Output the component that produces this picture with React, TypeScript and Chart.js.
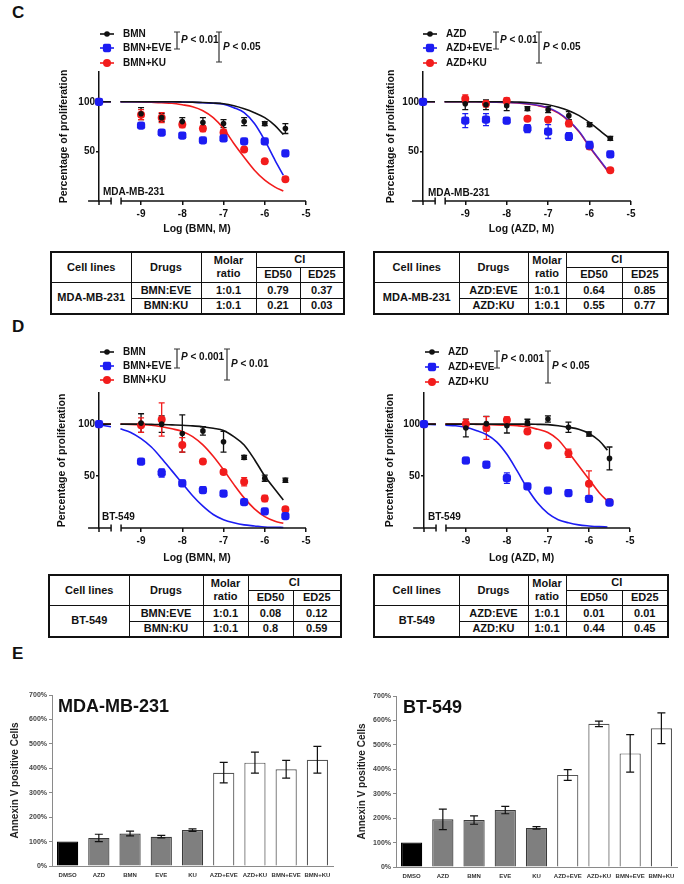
import React, { useEffect, useRef } from "react";
import { Chart, registerables } from "chart.js";
Chart.register(...registerables);

const FONT = "'Liberation Sans', Arial, Helvetica, sans-serif";

// ---------- dose response data (panels C and D) ----------
const DOSES = [-9, -8.5, -8, -7.5, -7, -6.5, -6, -5.5];
const CONTROL_X = -10.02;
const CONTROL_Y = 100;
const X_TICKS = [-9, -8, -7, -6, -5];
const Y_TICKS = [50, 100];
const CURVE_X = [-10.02, -9.73, -9.6, -9.5, -9.25, -9, -8.75, -8.5, -8.25, -8, -7.75, -7.5, -7.25, -7, -6.75, -6.5, -6.25, -6, -5.75, -5.55];

// C left: MDA-MB-231, BMN
const C1_BMN = [88, 84, 80, 79, 78, 80, 78, 73];
const C1_BMN_ERR = [6, 4, 4, 5, 4, 4, 2, 5];
const C1_EVE = [76, 69, 66, 61, 63, 60, 60, 48];
const C1_EVE_ERR = [2, 2, 2, 2, 2, 2, 2, 2];
const C1_KU = [87, 84, 77, 73, 69, 52, 40, 22];
const C1_KU_ERR = [5, 5, 3, 3, 3, 2, 2, 2];
const C1_BMN_FIT = [100, 100, null, 100, 100, 100, 100, 100, 100, 99.8, 99.6, 99.3, 98.8, 98, 96, 93, 89, 84, 76, 67];
const C1_EVE_FIT = [100, 100, null, 100, 100, 100, 100, 100, 100, 99.8, 99.5, 99, 98.5, 97.5, 94, 89, 78, 61, 41, 26];
const C1_KU_FIT = [100, 100, null, 100, 100, 99.8, 99.5, 99, 98.5, 97, 95, 91, 84, 73, 58, 44, 31, 21, 14, 10];

// C right: MDA-MB-231, AZD
const C2_AZD = [98, 97, 96, 93, 92, 86, 77, 63];
const C2_AZD_ERR = [6, 5, 5, 2, 3, 4, 2, 2];
const C2_EVE = [81, 82, 81, 73, 70, 65, 56, 47];
const C2_EVE_ERR = [7, 6, 3, 4, 7, 4, 4, 3];
const C2_KU = [103, 98, 101, 83, 82, 78, 55, 31];
const C2_KU_ERR = [4, 3, 3, 2, 2, 3, 2, 2];
const C2_AZD_FIT = [100, 100, null, 100, 100, 100, 100, 100, 100, 100, 99.7, 99.3, 98.5, 97, 94.5, 91, 86, 79, 71, 64];
const C2_EVE_FIT = [100, 100, null, 100, 100, 100, 100, 99.8, 99.6, 99.4, 99, 98, 96.5, 94, 89, 81, 70, 55, 41, 30];
const C2_KU_FIT = [100, 100, null, 100, 100, 100, 100, 99.8, 99.6, 99.3, 98.8, 97.8, 96.2, 93.5, 88.5, 80.5, 69.5, 54.5, 40.5, 29.5];

// D left: BT-549, BMN
const D1_BMN = [101, 100, 91, 93.5, 83, 68, 48, 46];
const D1_BMN_ERR = [9, 8, 18, 4, 10, 2, 3, 2];
const D1_EVE = [64, 53, 43, 36.5, 33, 25, 16, 11.5];
const D1_EVE_ERR = [2, 4, 3, 3, 2, 2, 2, 2];
const D1_KU = [99, 104.5, 80, 64, 54, 44.5, 28.5, 18];
const D1_KU_ERR = [7, 16, 7, 2, 2, 4, 3, 2];
const D1_BMN_FIT = [100, 100, null, 100, 100, 100, 99.8, 99.6, 99.3, 99, 98.3, 97.5, 96, 94, 88, 80, 66, 50, 37, 27];
const D1_EVE_FIT = [99.5, 97.5, null, 95.5, 92, 86, 78, 67, 55, 43, 31, 21, 13, 8, 5, 3, 2, 1, 0.7, 0.5];
const D1_KU_FIT = [100, 100, null, 100, 99.8, 99.5, 99, 97.5, 95.5, 93, 88, 80, 69, 56, 42, 29, 18.5, 11, 6.5, 4.5];

// D right: BT-549, AZD
const D2_AZD = [96.3, 100.5, 98.5, 101.7, 105, 97, 90.5, 67];
const D2_AZD_ERR = [8.5, 7, 7, 3, 3, 5, 2, 11];
const D2_EVE = [65, 61, 48, 40, 36, 33.5, 28, 24.5];
const D2_EVE_ERR = [3, 3, 5, 2, 2, 2, 2, 2];
const D2_KU = [100.5, 96.3, 104, 93, 79.5, 72, 42.5, 25];
const D2_KU_ERR = [4, 11, 3, 2, 2, 4, 12.5, 2];
const D2_AZD_FIT = [100, 100, null, 100, 100, 100, 100, 100, 100, 100, 100, 100, 99.8, 99.5, 98.5, 97, 95, 91, 84, 75];
const D2_EVE_FIT = [99.8, 99.5, null, 99, 98.5, 97, 94, 90, 83, 71, 55, 38, 24, 14, 8, 5, 3, 2, 1.3, 1];
const D2_KU_FIT = [100, 100, null, 100, 100, 100, 99.8, 99.5, 99.3, 99, 98.5, 97.5, 95, 92, 85, 73, 60, 47, 34, 26];

// ---------- tables ----------
const TABLE_HEAD = ["Cell lines", "Drugs", "Molar", "ratio", "CI", "ED50", "ED25"];
const C_LEFT_ROWS = [["BMN:EVE", "1:0.1", "0.79", "0.37"], ["BMN:KU", "1:0.1", "0.21", "0.03"]];
const C_RIGHT_ROWS = [["AZD:EVE", "1:0.1", "0.64", "0.85"], ["AZD:KU", "1:0.1", "0.55", "0.77"]];
const D_LEFT_ROWS = [["BMN:EVE", "1:0.1", "0.08", "0.12"], ["BMN:KU", "1:0.1", "0.8", "0.59"]];
const D_RIGHT_ROWS = [["AZD:EVE", "1:0.1", "0.01", "0.01"], ["AZD:KU", "1:0.1", "0.44", "0.45"]];

// ---------- panel E ----------
const E_CATS = ["DMSO", "AZD", "BMN", "EVE", "KU", "AZD+EVE", "AZD+KU", "BMN+EVE", "BMN+KU"];
const E_MDA = [100, 115, 133, 120, 147, 382, 423, 396, 435];
const E_MDA_ERR = [0, 15, 10, 5, 5, 42, 43, 36, 55];
const E_BT = [100, 195, 192, 233, 160, 377, 586, 465, 568];
const E_BT_ERR = [0, 42, 17, 15, 5, 22, 11, 77, 63];
const E_Y_TICKS = [0, 100, 200, 300, 400, 500, 600, 700];

const BLACK = "#111111";
const BLUE = "#1c1cf2";
const RED = "#f21c1c";

type Series = {
  label: string;
  color: string;
  y: number[];
  err: number[];
  fit: (number | null)[];
  marker: "circle" | "rectRounded";
  radius: number;
  order: number;
  fitColor?: string;
};

type Bracket = { x: number; y1: number; y2: number; text: string; ty: number };

type DoseProps = {
  left: number; top: number; width: number; height: number;
  area: { l: number; r: number; t: number; b: number };
  series: Series[];
  xTitle: string; xTitleY: number;
  yTitleX: number;
  cellLine: string; cellX: number; cellY: number;
  legendX: number; legendYs: number[];
  brackets: Bracket[];
};

function drawMarker(ctx: CanvasRenderingContext2D, s: Series, x: number, y: number) {
  ctx.fillStyle = s.color;
  ctx.beginPath();
  if (s.marker === "circle") {
    ctx.arc(x, y, s.radius, 0, Math.PI * 2);
  } else {
    const h = s.radius * 0.86;
    const r = 1.8;
    ctx.moveTo(x - h + r, y - h);
    ctx.arcTo(x + h, y - h, x + h, y + h, r);
    ctx.arcTo(x + h, y + h, x - h, y + h, r);
    ctx.arcTo(x - h, y + h, x - h, y - h, r);
    ctx.arcTo(x - h, y - h, x + h, y - h, r);
    ctx.closePath();
  }
  ctx.fill();
}

function DoseChart(p: DoseProps) {
  const ref = useRef<HTMLCanvasElement>(null);
  useEffect(() => {
    const canvas = ref.current!;
    const cx = (x: number) => x - p.left;
    const cy = (y: number) => y - p.top;
    const datasets: any[] = [];
    p.series.forEach((s, i) => {
      datasets.push({
        label: s.label,
        data: [{ x: CONTROL_X, y: CONTROL_Y }, ...DOSES.map((d, j) => ({ x: d, y: s.y[j] }))],
        pointStyle: s.marker,
        pointRadius: s.radius,
        pointHoverRadius: s.radius,
        backgroundColor: s.color,
        borderColor: s.color,
        pointBorderWidth: 0,
        showLine: false,
        order: s.order,
        clip: false,
      });
      datasets.push({
        label: s.label + " fit",
        data: CURVE_X.map((x, j) => ({ x, y: s.fit[j] })),
        showLine: true,
        pointRadius: 0,
        borderColor: s.fitColor ?? s.color,
        borderWidth: 1.6,
        cubicInterpolationMode: "monotone",
        spanGaps: false,
        order: 10 + i,
        clip: false,
      });
    });

    const plugin = {
      id: "dosePlugin",
      beforeDatasetsDraw(chart: any) {
        const { ctx } = chart;
        const xs = chart.scales.x, ys = chart.scales.y;
        p.series.forEach((s) => {
          ctx.save();
          ctx.strokeStyle = s.color;
          ctx.lineWidth = 1.3;
          DOSES.forEach((d, j) => {
            const e = s.err[j];
            if (!e) return;
            const px = xs.getPixelForValue(d);
            const y1 = ys.getPixelForValue(s.y[j] + e);
            const y2 = ys.getPixelForValue(s.y[j] - e);
            ctx.beginPath();
            ctx.moveTo(px, y1); ctx.lineTo(px, y2);
            ctx.moveTo(px - 3, y1); ctx.lineTo(px + 3, y1);
            ctx.moveTo(px - 3, y2); ctx.lineTo(px + 3, y2);
            ctx.stroke();
          });
          ctx.restore();
        });
      },
      afterDraw(chart: any) {
        const { ctx, chartArea } = chart;
        const xs = chart.scales.x;
        const yb = chartArea.bottom;
        ctx.save();
        ctx.strokeStyle = "#111";
        ctx.lineWidth = 1.5;
        // broken x axis
        const segs = [[-10.285, -9.727], [-9.485, -5]];
        segs.forEach(([a, b]) => {
          ctx.beginPath();
          ctx.moveTo(xs.getPixelForValue(a), yb);
          ctx.lineTo(xs.getPixelForValue(b), yb);
          ctx.stroke();
        });
        [-9.727, -9.485].forEach((v) => {
          const px = xs.getPixelForValue(v);
          ctx.beginPath();
          ctx.moveTo(px, yb - 3.5); ctx.lineTo(px, yb + 3.5);
          ctx.stroke();
        });
        const c0 = xs.getPixelForValue(CONTROL_X);
        ctx.beginPath(); ctx.moveTo(c0, yb); ctx.lineTo(c0, yb + 4); ctx.stroke();

        // x title
        ctx.fillStyle = "#111";
        ctx.font = `bold 10.5px ${FONT}`;
        ctx.textAlign = "center";
        ctx.textBaseline = "middle";
        const tx = (xs.getPixelForValue(-10.285) + xs.getPixelForValue(-5)) / 2;
        ctx.fillText(p.xTitle, tx, cy(p.xTitleY));

        // legend
        ctx.font = `bold 10px ${FONT}`;
        ctx.textAlign = "left";
        p.series.forEach((s, i) => {
          const ly = cy(p.legendYs[i]);
          const lx = cx(p.legendX);
          ctx.strokeStyle = s.color;
          ctx.lineWidth = 1.6;
          ctx.beginPath(); ctx.moveTo(lx, ly); ctx.lineTo(lx + 14, ly); ctx.stroke();
          drawMarker(ctx, s, lx + 7, ly);
          ctx.fillStyle = "#111";
          ctx.fillText(s.label, lx + 23, ly + 0.5);
        });

        // brackets
        p.brackets.forEach((b) => {
          const bx = cx(b.x), y1 = cy(b.y1), y2 = cy(b.y2);
          ctx.strokeStyle = "#333";
          ctx.lineWidth = 1.2;
          ctx.beginPath();
          ctx.moveTo(bx, y1); ctx.lineTo(bx, y2);
          ctx.moveTo(bx - 3, y1); ctx.lineTo(bx + 3, y1);
          ctx.moveTo(bx - 3, y2); ctx.lineTo(bx + 3, y2);
          ctx.stroke();
          ctx.fillStyle = "#111";
          ctx.font = `italic bold 10px ${FONT}`;
          const ty = cy(b.ty);
          ctx.fillText("P", bx + 4, ty);
          const w = ctx.measureText("P").width;
          ctx.font = `bold 10px ${FONT}`;
          ctx.fillText(" " + b.text, bx + 4 + w, ty);
        });

        // cell line label
        ctx.font = `bold 10px ${FONT}`;
        ctx.fillText(p.cellLine, cx(p.cellX), cy(p.cellY));
        ctx.restore();
      },
    };

    const yTitleFont = 10.5;
    const chart = new Chart(canvas, {
      type: "scatter",
      data: { datasets },
      options: {
        animation: false,
        responsive: false,
        devicePixelRatio: 1,
        events: [],
        layout: {
          padding: {
            left: 0,
            top: p.area.t - p.top,
            right: p.left + p.width - p.area.r,
            bottom: 0,
          },
        },
        plugins: { legend: { display: false }, tooltip: { enabled: false } },
        scales: {
          x: {
            type: "linear",
            min: CONTROL_X,
            max: -5,
            afterBuildTicks: (scale: any) => {
              scale.ticks = X_TICKS.map((v) => ({ value: v }));
            },
            afterFit: (scale: any) => {
              scale.height = p.top + p.height - p.area.b;
            },
            border: { display: false },
            grid: { drawOnChartArea: false, drawTicks: true, tickLength: 4, color: "#111", lineWidth: 1.5 },
            ticks: {
              font: { family: FONT, size: 10, weight: "bold" },
              color: "#111",
              padding: 3,
              maxRotation: 0,
              callback: (v: any) => String(v),
            },
          },
          y: {
            type: "linear",
            min: 0,
            max: 130,
            afterBuildTicks: (scale: any) => {
              scale.ticks = Y_TICKS.map((v) => ({ value: v }));
            },
            afterFit: (scale: any) => {
              scale.width = p.area.l - p.left;
            },
            border: { display: true, color: "#111", width: 1.5 },
            grid: { drawOnChartArea: false, drawTicks: true, tickLength: 3, color: "#111", lineWidth: 1.5 },
            ticks: {
              font: { family: FONT, size: 10, weight: "bold" },
              color: "#111",
              padding: 1,
              callback: (v: any) => String(v),
            },
            title: {
              display: true,
              text: "Percentage of proliferation",
              font: { family: FONT, size: yTitleFont, weight: "bold" },
              color: "#111",
              padding: { top: p.yTitleX - p.left - yTitleFont * 0.6, bottom: 0 },
            },
          },
        },
      },
      plugins: [plugin],
    } as any);
    return () => chart.destroy();
  }, []);
  return (
    <canvas
      ref={ref}
      width={p.width}
      height={p.height}
      style={{ position: "absolute", left: p.left, top: p.top, width: p.width, height: p.height }}
    />
  );
}

type BarProps = {
  left: number; top: number; width: number; height: number;
  area: { l: number; r: number; t: number; b: number };
  values: number[]; errs: number[];
  title: string; titleX: number; titleY: number;
  yTitleX: number;
};

function BarChart(p: BarProps) {
  const ref = useRef<HTMLCanvasElement>(null);
  useEffect(() => {
    const canvas = ref.current!;
    const fills = E_CATS.map((_, i) => (i === 0 ? "#000000" : i < 5 ? "#7f7f7f" : "#ffffff"));
    const borders = E_CATS.map((_, i) => (i === 0 ? "#000000" : i < 5 ? "#3a3a3a" : "#555555"));
    const plugin = {
      id: "barPlugin",
      afterDatasetsDraw(chart: any) {
        const { ctx } = chart;
        const xs = chart.scales.x, ys = chart.scales.y;
        ctx.save();
        ctx.strokeStyle = "#111";
        ctx.lineWidth = 1.2;
        p.values.forEach((v, i) => {
          const e = p.errs[i];
          if (!e) return;
          const px = xs.getPixelForValue(i);
          const y1 = ys.getPixelForValue(v + e), y2 = ys.getPixelForValue(v - e);
          ctx.beginPath();
          ctx.moveTo(px, y1); ctx.lineTo(px, y2);
          ctx.moveTo(px - 4, y1); ctx.lineTo(px + 4, y1);
          ctx.moveTo(px - 4, y2); ctx.lineTo(px + 4, y2);
          ctx.stroke();
        });
        ctx.fillStyle = "#111";
        ctx.font = `bold 18px ${FONT}`;
        ctx.textAlign = "left";
        ctx.textBaseline = "middle";
        ctx.fillText(p.title, p.titleX - p.left, p.titleY - p.top);
        ctx.restore();
      },
    };
    const chart = new Chart(canvas, {
      type: "bar",
      data: {
        labels: E_CATS,
        datasets: [
          {
            data: p.values,
            backgroundColor: fills,
            borderColor: borders,
            borderWidth: 1.2,
            barPercentage: 0.68,
            categoryPercentage: 1,
          },
        ],
      },
      options: {
        animation: false,
        responsive: false,
        devicePixelRatio: 1,
        events: [],
        layout: {
          padding: { left: 0, top: p.area.t - p.top, right: p.left + p.width - p.area.r, bottom: 0 },
        },
        plugins: { legend: { display: false }, tooltip: { enabled: false } },
        scales: {
          x: {
            afterFit: (scale: any) => {
              scale.height = p.top + p.height - p.area.b;
            },
            border: { display: true, color: "#8a8a8a", width: 1 },
            grid: { display: true, drawOnChartArea: false, drawTicks: false },
            ticks: {
              font: { family: FONT, size: 6, weight: "bold" },
              color: "#333",
              padding: 6,
              maxRotation: 0,
              autoSkip: false,
            },
          },
          y: {
            min: 0,
            max: 700,
            afterBuildTicks: (scale: any) => {
              scale.ticks = E_Y_TICKS.map((v) => ({ value: v }));
            },
            afterFit: (scale: any) => {
              scale.width = p.area.l - p.left;
            },
            border: { display: true, color: "#8a8a8a", width: 1 },
            grid: { drawOnChartArea: false, drawTicks: true, tickLength: 3, color: "#8a8a8a" },
            ticks: {
              font: { family: FONT, size: 7, weight: "bold" },
              color: "#444",
              padding: 2,
              callback: (v: any) => v + "%",
            },
            title: {
              display: true,
              text: "Annexin V positive Cells",
              font: { family: FONT, size: 10, weight: "bold" },
              color: "#222",
              padding: { top: p.yTitleX - p.left - 6, bottom: 0 },
            },
          },
        },
      },
      plugins: [plugin],
    } as any);
    return () => chart.destroy();
  }, []);
  return (
    <canvas
      ref={ref}
      width={p.width}
      height={p.height}
      style={{ position: "absolute", left: p.left, top: p.top, width: p.width, height: p.height }}
    />
  );
}

type TableProps = { left: number; top: number; cols: number[]; cell: string; rows: string[][] };

function CITable(p: TableProps) {
  const td: React.CSSProperties = {
    border: "1px solid #111",
    padding: 0,
    textAlign: "center",
    verticalAlign: "middle",
    lineHeight: "13px",
  };
  const total = p.cols.reduce((a, b) => a + b, 0);
  return (
    <table
      style={{
        position: "absolute",
        left: p.left,
        top: p.top,
        width: total,
        borderCollapse: "collapse",
        tableLayout: "fixed",
        border: "2px solid #111",
        font: `bold 11px ${FONT}`,
        color: "#111",
      }}
    >
      <colgroup>
        {p.cols.map((w, i) => (
          <col key={i} style={{ width: w }} />
        ))}
      </colgroup>
      <tbody>
        <tr style={{ height: 15 }}>
          <td style={td} rowSpan={2}>{TABLE_HEAD[0]}</td>
          <td style={td} rowSpan={2}>{TABLE_HEAD[1]}</td>
          <td style={td} rowSpan={2}>{TABLE_HEAD[2]}<br />{TABLE_HEAD[3]}</td>
          <td style={td} colSpan={2}>{TABLE_HEAD[4]}</td>
        </tr>
        <tr style={{ height: 15 }}>
          <td style={td}>{TABLE_HEAD[5]}</td>
          <td style={td}>{TABLE_HEAD[6]}</td>
        </tr>
        {p.rows.map((r, i) => (
          <tr key={i} style={{ height: 16 }}>
            {i === 0 && (
              <td style={td} rowSpan={2}>{p.cell}</td>
            )}
            {r.map((c, j) => (
              <td key={j} style={td}>{c}</td>
            ))}
          </tr>
        ))}
      </tbody>
    </table>
  );
}

const mk = (label: string, color: string, y: number[], err: number[], fit: (number | null)[], kind: "bmn" | "eve" | "ku", fitColor?: string): Series => ({
  label, color, y, err, fit,
  marker: kind === "eve" ? "rectRounded" : "circle",
  radius: kind === "bmn" ? 2.8 : kind === "eve" ? 4.8 : 4,
  order: kind === "eve" ? 0 : kind === "bmn" ? 1 : 2,
  fitColor,
});

export default function App() {
  useEffect(() => {
    document.body.style.margin = "0";
  }, []);
  const panelLabel: React.CSSProperties = { position: "absolute", font: `bold 17px ${FONT}`, color: "#111", lineHeight: "17px" };
  return (
    <div style={{ position: "absolute", left: 0, top: 0, width: 684, height: 884, background: "#fff", overflow: "hidden" }}>
      <div style={{ ...panelLabel, left: 12, top: 4 }}>C</div>
      <div style={{ ...panelLabel, left: 12, top: 318 }}>D</div>
      <div style={{ ...panelLabel, left: 12, top: 645 }}>E</div>

      <DoseChart
        left={40} top={20} width={290} height={220}
        area={{ l: 99, r: 306, t: 72, b: 201 }}
        series={[
          mk("BMN", BLACK, C1_BMN, C1_BMN_ERR, C1_BMN_FIT, "bmn"),
          mk("BMN+EVE", BLUE, C1_EVE, C1_EVE_ERR, C1_EVE_FIT, "eve"),
          mk("BMN+KU", RED, C1_KU, C1_KU_ERR, C1_KU_FIT, "ku"),
        ]}
        xTitle="Log (BMN, M)" xTitleY={229} yTitleX={64}
        cellLine="MDA-MB-231" cellX={103} cellY={192}
        legendX={100} legendYs={[34, 48, 63]}
        brackets={[
          { x: 177, y1: 32, y2: 49, text: "< 0.01", ty: 40 },
          { x: 219, y1: 32, y2: 62, text: "< 0.05", ty: 47 },
        ]}
      />
      <DoseChart
        left={360} top={20} width={290} height={220}
        area={{ l: 423, r: 631, t: 72, b: 201 }}
        series={[
          mk("AZD", BLACK, C2_AZD, C2_AZD_ERR, C2_AZD_FIT, "bmn"),
          mk("AZD+EVE", BLUE, C2_EVE, C2_EVE_ERR, C2_EVE_FIT, "eve", "rgba(40,30,235,0.75)"),
          mk("AZD+KU", RED, C2_KU, C2_KU_ERR, C2_KU_FIT, "ku"),
        ]}
        xTitle="Log (AZD, M)" xTitleY={229} yTitleX={391}
        cellLine="MDA-MB-231" cellX={428} cellY={193}
        legendX={423} legendYs={[34, 48, 63]}
        brackets={[
          { x: 496, y1: 32, y2: 49, text: "< 0.01", ty: 40 },
          { x: 539, y1: 32, y2: 63, text: "< 0.05", ty: 47 },
        ]}
      />
      <CITable left={50} top={251} cols={[80, 70, 55, 44, 44]} cell="MDA-MB-231" rows={C_LEFT_ROWS} />
      <CITable left={373} top={251} cols={[85, 69, 38, 56, 46]} cell="MDA-MB-231" rows={C_RIGHT_ROWS} />

      <DoseChart
        left={40} top={335} width={290} height={235}
        area={{ l: 99, r: 306, t: 393, b: 528 }}
        series={[
          mk("BMN", BLACK, D1_BMN, D1_BMN_ERR, D1_BMN_FIT, "bmn"),
          mk("BMN+EVE", BLUE, D1_EVE, D1_EVE_ERR, D1_EVE_FIT, "eve"),
          mk("BMN+KU", RED, D1_KU, D1_KU_ERR, D1_KU_FIT, "ku"),
        ]}
        xTitle="Log (BMN, M)" xTitleY={558} yTitleX={62}
        cellLine="BT-549" cellX={102} cellY={517}
        legendX={100} legendYs={[352, 366, 380]}
        brackets={[
          { x: 177, y1: 349, y2: 368, text: "< 0.001", ty: 357 },
          { x: 227, y1: 349, y2: 380, text: "< 0.01", ty: 364 },
        ]}
      />
      <DoseChart
        left={360} top={335} width={290} height={235}
        area={{ l: 424, r: 630, t: 393, b: 528 }}
        series={[
          mk("AZD", BLACK, D2_AZD, D2_AZD_ERR, D2_AZD_FIT, "bmn"),
          mk("AZD+EVE", BLUE, D2_EVE, D2_EVE_ERR, D2_EVE_FIT, "eve"),
          mk("AZD+KU", RED, D2_KU, D2_KU_ERR, D2_KU_FIT, "ku"),
        ]}
        xTitle="Log (AZD, M)" xTitleY={558} yTitleX={390}
        cellLine="BT-549" cellX={428} cellY={517}
        legendX={425} legendYs={[352, 367, 382]}
        brackets={[
          { x: 497, y1: 351, y2: 368, text: "< 0.001", ty: 359 },
          { x: 548, y1: 351, y2: 383, text: "< 0.05", ty: 366 },
        ]}
      />
      <CITable left={48} top={574} cols={[80, 74, 45, 45, 48]} cell="BT-549" rows={D_LEFT_ROWS} />
      <CITable left={373} top={574} cols={[85, 69, 38, 56, 46]} cell="BT-549" rows={D_RIGHT_ROWS} />

      <BarChart
        left={0} top={680} width={345} height={204}
        area={{ l: 52, r: 333, t: 695, b: 866 }}
        values={E_MDA} errs={E_MDA_ERR}
        title="MDA-MB-231" titleX={58} titleY={707}
        yTitleX={15}
      />
      <BarChart
        left={345} top={680} width={339} height={204}
        area={{ l: 396, r: 677, t: 696, b: 867 }}
        values={E_BT} errs={E_BT_ERR}
        title="BT-549" titleX={403} titleY={708}
        yTitleX={362}
      />
    </div>
  );
}
